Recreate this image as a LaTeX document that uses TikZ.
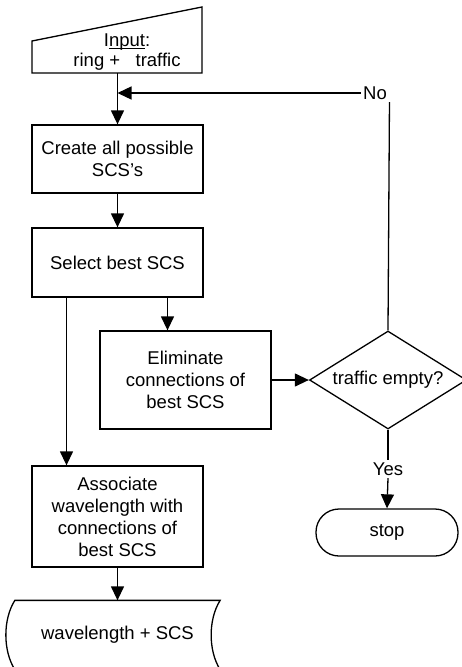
\documentclass[tikz,border=0pt]{standalone}
\usepackage{fontspec}
\setmainfont{Liberation Sans}
\usetikzlibrary{arrows.meta,shapes.geometric}

\begin{document}
\begin{tikzpicture}[x=1pt,y=1pt,line width=1.3pt,
  every node/.style={font=\fontsize{18.5}{22}\selectfont},
  box/.style={draw,rectangle,align=center,minimum width=171pt,inner sep=0pt},
  lbl/.style={inner sep=2pt,align=center},
  arr/.style={-{Triangle[length=14pt,width=13pt]}}]
\useasboundingbox (0,0) rectangle (461,-667);
\pgfmathsetmacro{\colx}{117.5}
\pgfmathsetmacro{\bend}{12}
\draw (32,-73) -- (32,-41) -- (202,-7) -- (202,-73) -- cycle;
\node[lbl,font=\fontsize{18.5}{20}\selectfont] (input) at (127,-52) {I\underline{\smash{nput}}:\\ring +\ \ \ traffic};
\coordinate (inbot) at (\colx,-73);
\node[box,minimum height=68pt] (create) at (\colx,-159) {Create all possible\\SCS's};
\node[box,minimum height=69pt] (select) at (\colx,-262.5) {Select best SCS};
\node[box,minimum height=98pt] (elim) at (185.5,-380) {Eliminate\\connections of\\best SCS};
\node[draw,diamond,aspect=1.6,inner sep=0pt,minimum width=157pt,minimum height=98pt] (test) at (388,-380) {traffic empty?};
\node[lbl] (no) at (375,-93) {No};
\node[lbl] (yes) at (388,-469) {Yes};
\node[draw,rounded corners=23pt,minimum width=142pt,minimum height=47pt] (stop) at (387,-532.5) {stop};
\node[box,minimum height=101pt] (assoc) at (\colx,-516.5) {Associate\\wavelength with\\connections of\\best SCS};
\node[minimum width=204pt,minimum height=68pt,inner sep=0pt] (result) at (\colx,-635) {wavelength + SCS};
\draw (result.north west) .. controls +(-\bend,-19) and +(-\bend,19) .. (result.south west) -- (result.south east) .. controls +(-\bend,19) and +(-\bend,-19) .. (result.north east) -- cycle;
\draw[arr] (inbot) -- (create.north);
\draw[arr] (create.south) -- (select.north);
\draw[arr] ([xshift=50pt]select.south) -- ([xshift=50pt]select.south |- elim.north);
\draw[arr] ([xshift=-51pt]select.south) -- ([xshift=-51pt]select.south |- assoc.north);
\draw[arr] (elim.east) -- (test.west);
\draw (test.north) -- (no.south east);
\draw[arr] (no.west) -- (no.west -| inbot);
\draw (test.south) -- (yes.north);
\draw[arr] (yes.south) -- (stop.north);
\draw[arr] (assoc.south) -- (result.north);
\end{tikzpicture}
\end{document}
